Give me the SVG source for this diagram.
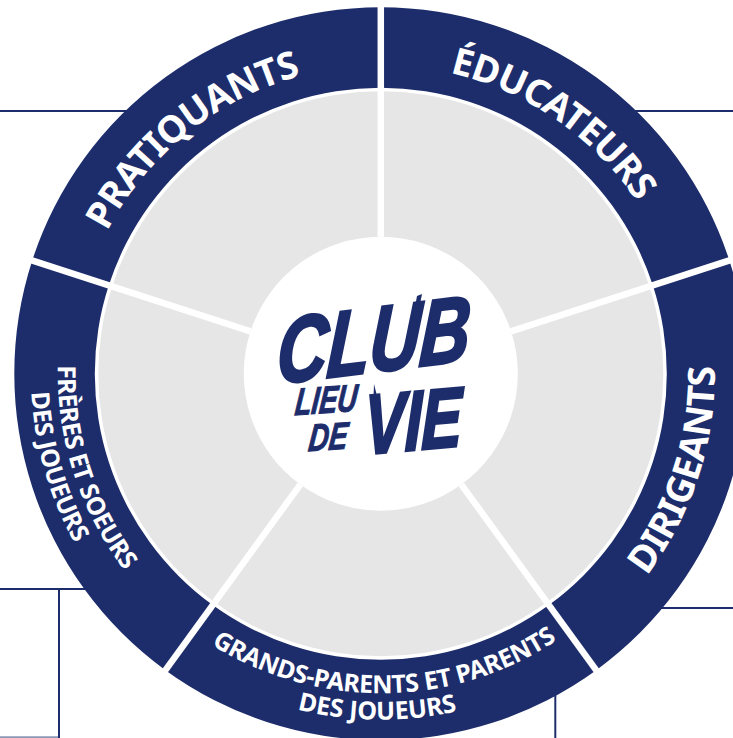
<svg xmlns="http://www.w3.org/2000/svg" xmlns:xlink="http://www.w3.org/1999/xlink" width="733" height="738" viewBox="0 0 733 738">
<style>
.blue{fill:#1d2d6b}
.grey{fill:#e6e6e6}
.conn{stroke:#1d2d6b;stroke-width:2;fill:none}
.div{stroke:#fff;stroke-width:6.5;fill:none}
.lab{font-family:"Noto Sans","Open Sans",sans-serif;font-weight:700;fill:#fff;text-anchor:middle}
.big{font-size:37.5px;letter-spacing:-.8px}
.small{font-size:25px;letter-spacing:-.4px}
.logo{font-family:"Liberation Sans",sans-serif;font-weight:700;font-style:italic;fill:#1d2d6b;stroke:#1d2d6b;text-anchor:middle}
</style>
<defs>
<g id="seg">
<path class="blue" d="M380.8 7.2A366.5 366.5 0 0 1 729.36 260.44L652.8 285.32A286 286 0 0 0 380.8 87.7Z"/>
<path class="grey" d="M380.8 91.2A282.5 282.5 0 0 1 649.47 286.4L511.1 331.36A137 137 0 0 0 380.8 236.7Z"/>
</g>
<path id="cw308" d="M380.8 682.2A308.5 308.5 0 0 1 380.8 65.2A308.5 308.5 0 0 1 380.8 682.2"/>
<path id="ccw334" d="M380.8 39.7A334 334 0 0 0 380.8 707.7A334 334 0 0 0 380.8 39.7"/>
<path id="ccw319" d="M380.8 54.2A319.5 319.5 0 0 0 380.8 693.2A319.5 319.5 0 0 0 380.8 54.2"/>
<path id="ccw346" d="M380.8 27.7A346 346 0 0 0 380.8 719.7A346 346 0 0 0 380.8 27.7"/>
<path id="ccw323" d="M380.8 50.7A323 323 0 0 0 380.8 696.7A323 323 0 0 0 380.8 50.7"/>
<path id="ccw350" d="M380.8 23.7A350 350 0 0 0 380.8 723.7A350 350 0 0 0 380.8 23.7"/>
</defs>
<rect width="733" height="738" fill="#fff"/>
<g id="connectors">
<path class="conn" d="M0 111H130"/>
<path class="conn" d="M630 111H733"/>
<path class="conn" d="M0 589H90"/>
<path class="conn" d="M59 589V738"/>
<path class="conn" d="M0 737.3H59" stroke-opacity=".5"/>
<path class="conn" d="M655 608H733"/>
<path class="conn" d="M555.3 690V738"/>
</g>
<g id="node-educateurs">
<use xlink:href="#seg" href="#seg"/>
<text class="lab big" transform="rotate(34.5 380.8 373.7)"><textPath href="#cw308" startOffset="50%">ÉDUCATEURS</textPath></text>
</g>
<g id="node-dirigeants">
<use href="#seg" transform="rotate(72 380.8 373.7)"/>
<text class="lab big" style="letter-spacing:-.4px" transform="rotate(-72 380.8 373.7)"><textPath href="#ccw334" startOffset="50%">DIRIGEANTS</textPath></text>
</g>
<g id="node-grands-parents">
<use href="#seg" transform="rotate(144 380.8 373.7)"/>
<text class="lab small" transform="rotate(-.7 380.8 373.7)"><textPath href="#ccw319" startOffset="50%">GRANDS-PARENTS ET PARENTS</textPath></text>
<text class="lab small" style="letter-spacing:-.1px" transform="rotate(.6 380.8 373.7)"><textPath href="#ccw346" startOffset="50%">DES JOUEURS</textPath></text>
</g>
<g id="node-freres">
<use href="#seg" transform="rotate(216 380.8 373.7)"/>
<text class="lab small" transform="rotate(72 380.8 373.7)"><textPath href="#ccw323" startOffset="50%">FRÈRES ET SOEURS</textPath></text>
<text class="lab small" transform="rotate(74 380.8 373.7)"><textPath href="#ccw350" startOffset="50%">DES JOUEURS</textPath></text>
</g>
<g id="node-pratiquants">
<use href="#seg" transform="rotate(288 380.8 373.7)"/>
<text class="lab big" transform="rotate(-38.8 380.8 373.7)"><textPath href="#cw308" startOffset="50%">PRATIQUANTS</textPath></text>
</g>
<g id="dividers">
<path class="div" d="M380.8 236.7V0"/>
<path class="div" d="M511.1 331.36L737.45 257.82"/>
<path class="div" d="M461.33 484.54L601.22 677.08"/>
<path class="div" d="M300.27 484.54L160.38 677.08"/>
<path class="div" d="M250.5 331.36L24.15 257.82"/>
</g>
<g id="node-club">
<text class="logo" font-size="92" stroke-width="3" transform="translate(372 372) rotate(-7) scale(.76 1) skewX(-14)">CLUB</text>
<text class="logo" font-size="38" stroke-width="1" transform="translate(325 413) rotate(-4) scale(.72 1) skewX(-14)">LIEU</text>
<text class="logo" font-size="38" stroke-width="1" transform="translate(327 450) rotate(-4) scale(.74 1) skewX(-14)">DE</text>
<text class="logo" font-size="84" stroke-width="3" transform="translate(413 450) rotate(-5) scale(.72 1) skewX(-8)">VIE</text>
<path class="blue" d="M417 296L422 294L412 345L408 345Z"/>
<path class="blue" d="M374 384L381 412L373 412Z"/>
</g>
</svg>
